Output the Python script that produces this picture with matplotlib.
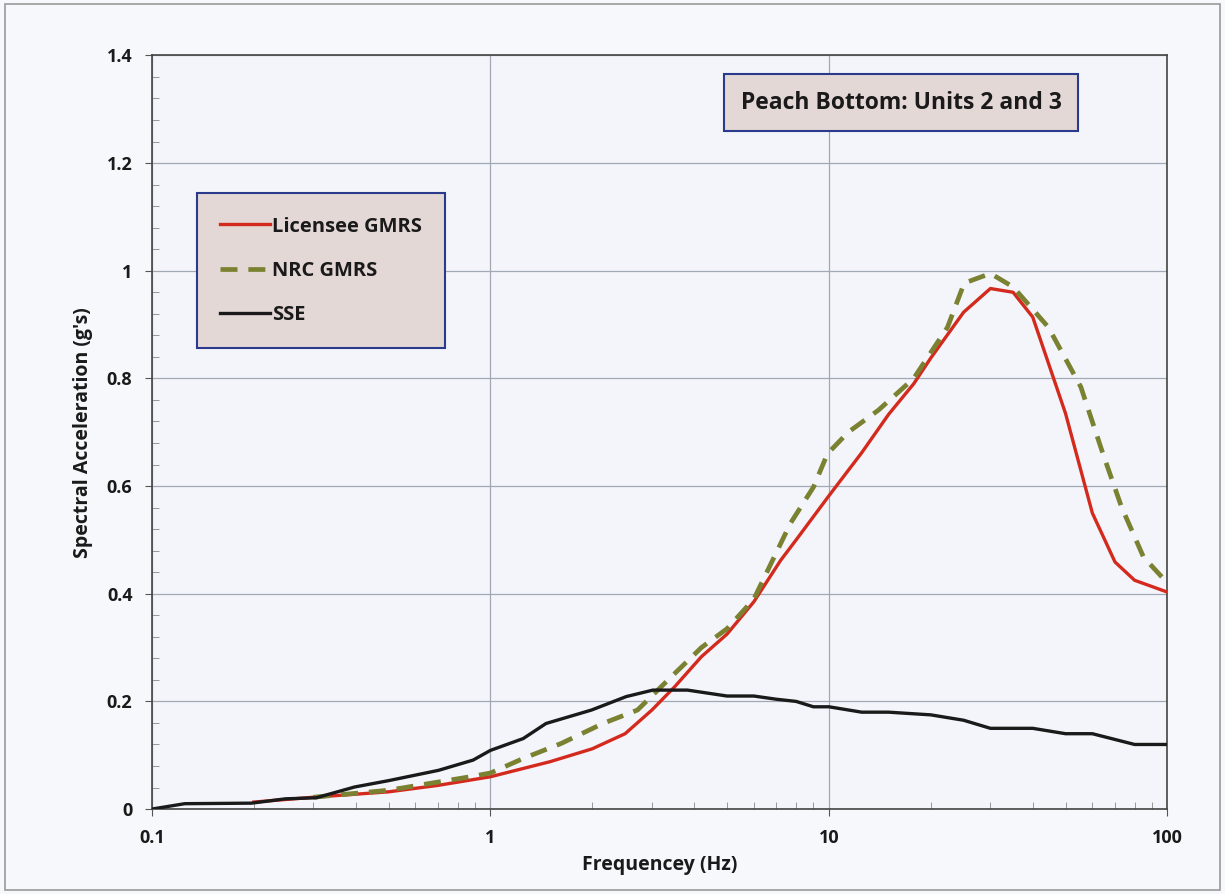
import matplotlib.pyplot as plt
import matplotlib.ticker as mticker
import numpy as np

# Licensee GMRS (red)
lic_freq = [0.2, 0.3, 0.5, 0.7, 1.0, 1.5, 2.0, 2.5, 3.0, 3.5, 4.2, 5.0, 6.0, 7.2, 8.0,
            10.0, 12.5, 15.0, 17.8, 20.0, 25.0, 30.0, 35.0, 40.0, 50.0, 60.0, 70.0, 80.0, 100.0]
lic_sa = [0.013, 0.022, 0.032, 0.044, 0.060, 0.088, 0.112, 0.140, 0.184, 0.227, 0.283, 0.325,
          0.385, 0.462, 0.50, 0.582, 0.662, 0.733, 0.790, 0.838, 0.923, 0.967, 0.960, 0.914,
          0.735, 0.550, 0.459, 0.425, 0.403]

# NRC GMRS (olive dashed)
nrc_freq = [0.3, 0.5, 0.87, 1.0, 1.25, 1.62, 2.15, 2.72, 3.35, 4.2, 5.0, 6.0, 7.7, 9.0, 9.9,
            11.4, 14.0, 17.8, 22.4, 25.1, 30.0, 35.0, 44.5, 55.5, 64.5, 73.2, 85.0, 100.0]
nrc_sa = [0.022, 0.035, 0.060, 0.067, 0.094, 0.122, 0.159, 0.184, 0.240, 0.300, 0.335, 0.390,
          0.531, 0.598, 0.660, 0.700, 0.741, 0.800, 0.895, 0.977, 0.995, 0.970, 0.895, 0.784,
          0.660, 0.561, 0.468, 0.420]

# SSE (black)
sse_freq = [0.1, 0.125, 0.197, 0.248, 0.306, 0.397, 0.502, 0.703, 0.889, 1.0, 1.25, 1.46,
            1.99, 2.52, 3.02, 3.82, 5.0, 6.0, 7.0, 8.0, 9.0, 10.0, 12.5, 15.0, 20.0, 25.0,
            30.0, 40.0, 50.0, 60.0, 80.0, 100.0]
sse_sa = [0.0, 0.010, 0.011, 0.019, 0.021, 0.041, 0.053, 0.072, 0.091, 0.109, 0.131, 0.159,
          0.184, 0.209, 0.221, 0.221, 0.21, 0.21, 0.204, 0.20, 0.19, 0.19, 0.18, 0.18, 0.175,
          0.165, 0.15, 0.15, 0.14, 0.14, 0.12, 0.12]

y_ticks = [0, 0.2, 0.4, 0.6, 0.8, 1.0, 1.2, 1.4]
x_ticks = [0.1, 1, 10, 100]

plt.rcParams['font.family'] = ['Open Sans', 'DejaVu Sans']
plt.rcParams['font.weight'] = 'bold'

fig = plt.figure(figsize=(12.25, 8.94), dpi=100, facecolor='#f7f8fb')
ax = fig.add_axes([0.124, 0.095, 0.829, 0.843])
ax.set_facecolor('#f3f5fa')

ax.plot(lic_freq, lic_sa, color='#d42a1e', lw=2.4, label='Licensee GMRS', zorder=3)
ax.plot(nrc_freq, nrc_sa, color='#7a8232', lw=3.4, dashes=(3.6, 2.3), label='NRC GMRS', zorder=4)
ax.plot(sse_freq, sse_sa, color='#1a1a1a', lw=2.4, label='SSE', zorder=5)

ax.set_xscale('log')
ax.set_xlim(0.1, 100)
ax.set_ylim(0, 1.4)
ax.set_xticks(x_ticks)
ax.xaxis.set_major_formatter(mticker.FuncFormatter(lambda v, p: f'{v:g}'))
ax.set_yticks(y_ticks)
ax.yaxis.set_major_formatter(mticker.FuncFormatter(lambda v, p: f'{v:g}'))
ax.yaxis.set_minor_locator(mticker.MultipleLocator(0.04))
ax.xaxis.set_minor_locator(mticker.LogLocator(base=10, subs=np.arange(2, 10)))
ax.xaxis.set_minor_formatter(mticker.NullFormatter())

ax.tick_params(which='major', direction='out', length=5, labelsize=13, pad=9, color='#555555')
ax.tick_params(which='minor', direction='in', length=5, color='#888888')
for lab in ax.get_xticklabels() + ax.get_yticklabels():
    lab.set_fontweight('bold')
    lab.set_color('#1a1a1a')

ax.grid(True, which='major', color='#a3a8b5', lw=0.9)
for sp in ax.spines.values():
    sp.set_color('#444444')
    sp.set_linewidth(1.2)

ax.set_xlabel('Frequencey (Hz)', fontsize=14, fontweight='bold', labelpad=6, color='#1a1a1a')
ax.set_ylabel("Spectral Acceleration (g's)", fontsize=14, fontweight='bold', labelpad=10,
              color='#1a1a1a')

leg = ax.legend(loc='upper left', bbox_to_anchor=(0.044, 0.817), borderaxespad=0,
                fancybox=False, framealpha=1, facecolor='#e4d8d6', edgecolor='#2b3a8c',
                fontsize=14.5, handlelength=2.5, handletextpad=0.1, labelspacing=1.2,
                borderpad=1.15)
leg.get_frame().set_linewidth(1.5)
for t in leg.get_texts():
    t.set_fontweight('bold')
    t.set_color('#1a1a1a')

ax.text(0.580, 0.953, 'Peach Bottom: Units 2 and 3', transform=ax.transAxes,
        fontsize=16.5, fontweight='bold', color='#1a1a1a', ha='left', va='top',
        bbox=dict(boxstyle='square,pad=0.72', facecolor='#e4d8d6', edgecolor='#2b3a8c', lw=1.5))

fig.patches.append(plt.Rectangle((0.004, 0.004), 0.992, 0.992, transform=fig.transFigure,
                                 fill=False, edgecolor='#9a9a9a', lw=1.2))

fig.savefig('out.png', dpi=100, facecolor=fig.get_facecolor())
